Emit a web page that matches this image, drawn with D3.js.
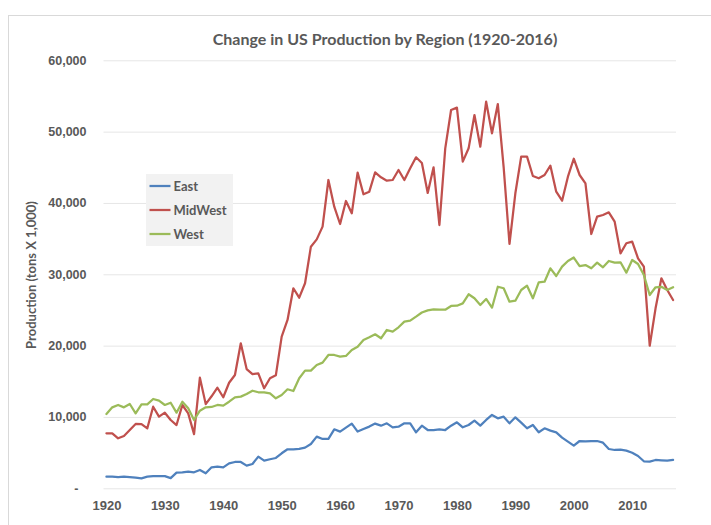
<!DOCTYPE html>
<html lang="en">
<head>
<meta charset="UTF-8">
<script src="https://d3js.org/d3.v7.min.js"></script>
<style>
  body { margin: 0; background: #fff; }
  svg { font-family: Lato, "Open Sans", sans-serif; }
  .grid line { stroke: #e6e6e6; stroke-width: 1px; }
  .tick text { fill: #595959; font-weight: bold; font-size: 12.5px; }
  .series { fill: none; stroke-width: 2.25px; stroke-linejoin: round; stroke-linecap: round; }
</style>
</head>
<body>
<script>
// Categories: years 1920..2017
const years = d3.range(1920, 2018);

// Production (tons X 1,000)
const east = [
  1630, 1620, 1580, 1620, 1570, 1500, 1400, 1630, 1700, 1700,
  1700, 1420, 2190, 2240, 2330, 2240, 2570, 2100, 2940, 3040,
  2940, 3500, 3690, 3690, 3180, 3410, 4440, 3880, 4070, 4250,
  4910, 5470, 5470, 5520, 5700, 6220, 7250, 6920, 6920, 8270,
  7950, 8510, 9070, 7950, 8320, 8650, 9070, 8780, 9110, 8550,
  8640, 9110, 9110, 7850, 8780, 8170, 8170, 8270, 8170, 8780,
  9250, 8550, 8870, 9480, 8780, 9580, 10280, 9810, 10040, 9110,
  9950, 9200, 8410, 8870, 7850, 8410, 8080, 7850, 7100, 6540,
  5980, 6630, 6590, 6630, 6630, 6400, 5510, 5370, 5420, 5280,
  4990, 4530, 3790, 3740, 3970, 3920, 3880, 3970
];
const midWest = [
  7710, 7710, 7010, 7340, 8170, 9020, 9000, 8410, 11440, 10040,
  10600, 9575, 8870, 11680, 10510, 7600, 15500, 11800, 12900, 14100,
  12760, 14800, 15880, 20330, 16720, 16000, 16100, 14020, 15420, 15840,
  21260, 23600, 28040, 26720, 28740, 33870, 34900, 36680, 43220, 39480,
  37050, 40280, 38550, 44250, 41220, 41580, 44300, 43600, 43120, 43220,
  44620, 43220, 44860, 46400, 45600, 41400, 45000, 36910, 47660, 53030,
  53360, 45790, 47660, 52330, 47890, 54200, 49770, 53870, 45000, 34250,
  41360, 46490, 46490, 43780, 43460, 43920, 45230, 41580, 40320, 43690,
  46200, 43920, 42760, 35650, 38080, 38310, 38690, 37380, 32940, 34350,
  34580, 32240, 31070, 19990, 25230, 29440, 27800, 26400
];
const west = [
  10420, 11350, 11680, 11350, 11820, 10510, 11770, 11770, 12520, 12280,
  11680, 12000, 10600, 12140, 11210, 9575, 10880, 11350, 11400, 11680,
  11590, 12140, 12760, 12850, 13220, 13680, 13460, 13460, 13300, 12620,
  13080, 13880, 13640, 15420, 16490, 16490, 17290, 17620, 18690, 18690,
  18450, 18550, 19390, 19850, 20790, 21170, 21590, 21030, 22190, 21960,
  22570, 23360, 23500, 24060, 24650, 24950, 25090, 25040, 25040, 25560,
  25600, 25930, 27200, 26640, 25700, 26540, 25320, 28260, 28040, 26160,
  26300, 27800, 28400, 26640, 28880, 28960, 30840, 29760, 31070, 31870,
  32350, 31160, 31300, 30840, 31630, 30980, 31870, 31630, 31680, 30230,
  32010, 31450, 29900, 27100, 28180, 28250, 27800, 28180
];

const seriesNames = ["East", "MidWest", "West"];
const seriesColors = ["#4f81bd", "#c0504d", "#9bbb59"];
const yTicks = [0, 10000, 20000, 30000, 40000, 50000, 60000];
const xTicks = [1920, 1930, 1940, 1950, 1960, 1970, 1980, 1990, 2000, 2010];

const W = 711, H = 525;
const plot = { left: 103.5, right: 676, top: 60.3, bottom: 488.3 };

const svg = d3.select("body").append("svg")
  .attr("width", W)
  .attr("height", H);

// chart frame (runs off the right/bottom edge like the screenshot)
svg.append("rect")
  .attr("x", 8.5).attr("y", 15.5)
  .attr("width", 740).attr("height", 540)
  .attr("fill", "#fff")
  .attr("stroke", "#d9d9d9");

const x = d3.scaleLinear()
  .domain([years[0] - 0.5, years[years.length - 1] + 0.5])
  .range([plot.left, plot.right]);

const y = d3.scaleLinear()
  .domain([0, 60000])
  .range([plot.bottom, plot.top]);

// y axis with gridlines
const yAxis = svg.append("g")
  .attr("class", "grid")
  .attr("transform", `translate(${plot.left},0)`)
  .call(d3.axisLeft(y)
    .tickValues(yTicks)
    .tickSize(-(plot.right - plot.left))
    .tickPadding(17)
    .tickFormat(d => d === 0 ? "-" : d3.format(",")(d)));
yAxis.select(".domain").remove();
yAxis.selectAll(".tick text")
  .attr("dx", d => d === 0 ? -8 : 0);

// x axis labels
const xAxis = svg.append("g")
  .attr("transform", `translate(0,${plot.bottom})`)
  .call(d3.axisBottom(x)
    .tickValues(xTicks)
    .tickSize(0)
    .tickPadding(12)
    .tickFormat(d3.format("d")));
xAxis.select(".domain").remove();
xAxis.selectAll(".tick text").style("font-size", "13px");

// lines
const line = d3.line()
  .x((d, i) => x(years[i]))
  .y(d => y(d));

[east, midWest, west].forEach((vals, k) => {
  svg.append("path")
    .datum(vals)
    .attr("class", "series")
    .attr("stroke", seriesColors[k])
    .attr("d", line);
});

// title
svg.append("text")
  .attr("x", 385)
  .attr("y", 45)
  .attr("text-anchor", "middle")
  .attr("fill", "#595959")
  .style("font-size", "16px")
  .style("font-weight", "bold")
  .text("Change in US Production by Region (1920-2016)");

// y axis title
svg.append("text")
  .attr("transform", "translate(36,275) rotate(-90)")
  .attr("text-anchor", "middle")
  .attr("fill", "#595959")
  .style("font-size", "13px")
  .style("font-weight", "bold")
  .text("Production (tons X 1,000)");

// legend
const legend = svg.append("g").attr("transform", "translate(146,174)");
legend.append("rect")
  .attr("width", 87).attr("height", 72)
  .attr("fill", "#f2f2f2");
seriesNames.forEach((name, k) => {
  const g = legend.append("g").attr("transform", `translate(0,${12 + k * 24})`);
  g.append("line")
    .attr("x1", 3.5).attr("x2", 24.5)
    .attr("stroke", seriesColors[k])
    .attr("stroke-width", 2.25);
  g.append("text")
    .attr("x", 27.5)
    .attr("dy", "0.35em")
    .attr("fill", "#595959")
    .style("font-size", "13px")
    .style("font-weight", "bold")
    .text(name);
});
</script>
</body>
</html>
